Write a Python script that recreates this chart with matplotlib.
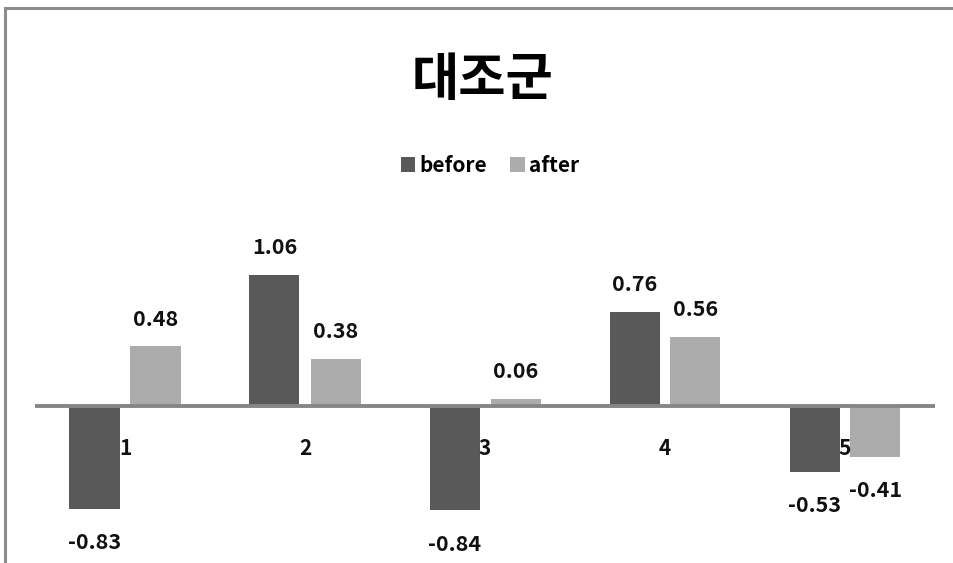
import matplotlib
matplotlib.use("Agg")
import matplotlib.pyplot as plt
from matplotlib.patches import Rectangle
import numpy as np

plt.rcParams['font.family'] = ['Noto Sans CJK KR', 'DejaVu Sans']

categories = ["1", "2", "3", "4", "5"]
before = [-0.83, 1.06, -0.84, 0.76, -0.53]
after = [0.48, 0.38, 0.06, 0.56, -0.41]
title = "대조군"
series_names = ["before", "after"]

W, H = 954, 563
fig = plt.figure(figsize=(W / 100, H / 100), dpi=100)

# outer chart frame (right and bottom edges fall outside the canvas)
fig.patches.append(Rectangle((5 / W, -0.05), 1.1, 1 - 8 / H + 0.05,
                             transform=fig.transFigure, fill=False,
                             edgecolor="#8c8c8c", linewidth=2.2, zorder=0))

# plot area: zero line at y=406px, about 124 px per unit
ymin, ymax = -1.2, 1.4
ppu = 124
zero_px = 406
top_px = zero_px - ymax * ppu
bot_px = zero_px - ymin * ppu
left_px, right_px = 35, 935
ax = fig.add_axes([left_px / W, 1 - bot_px / H,
                   (right_px - left_px) / W, (bot_px - top_px) / H])
ax.set_xlim(0.5, 5.5)
ax.set_ylim(ymin, ymax)
ax.axis("off")

x = np.arange(1, len(categories) + 1)
bw = 50 / 180
off = 30.5 / 180
c_before, c_after = "#595959", "#acacac"
b1 = ax.bar(x - off, before, bw, color=c_before, zorder=2, label=series_names[0])
b2 = ax.bar(x + off, after, bw, color=c_after, zorder=2, label=series_names[1])
ax.axhline(0, color="#868686", linewidth=2.8, zorder=3)

lab_kw = dict(ha="center", fontsize=15.5, fontweight="bold", color="#111111")
for xs, vals in ((x - off, before), (x + off, after)):
    for xi, v in zip(xs, vals):
        if v >= 0:
            ax.text(xi, v + 0.135, f"{v:.2f}", va="bottom", **lab_kw)
        else:
            ax.text(xi, v - 0.19, f"{v:.2f}", va="top", **lab_kw)

for xi, c in zip(x, categories):
    ax.text(xi, -0.34, c, ha="center", va="center", fontsize=15,
            fontweight="bold", color="#111111")

fig.text(482 / W, 1 - 80 / H, title, ha="center", va="center",
         fontsize=37, fontweight="bold", color="#000000")

leg = fig.legend(handles=[b1, b2], labels=series_names, loc="center",
                 bbox_to_anchor=(490 / W, 1 - 165 / H), ncol=2, frameon=False,
                 prop=dict(size=15, weight="bold"), handlelength=0.7,
                 handleheight=0.7, handletextpad=0.2, columnspacing=1.1)

fig.savefig("out.png", dpi=100)
